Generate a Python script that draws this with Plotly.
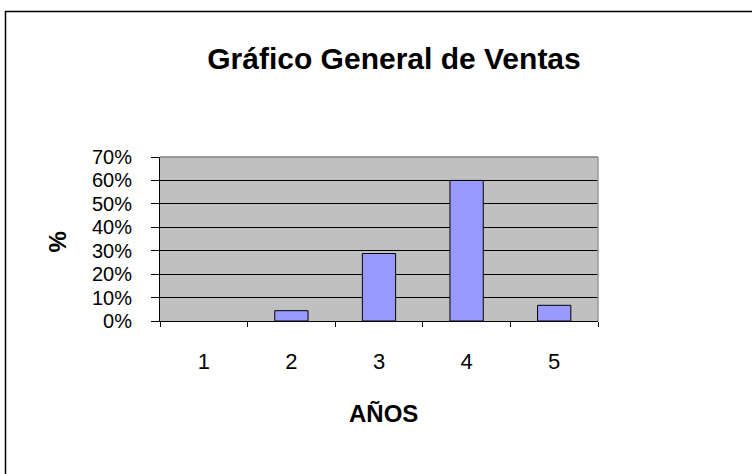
import plotly.graph_objects as go

# Chart data
years = ['1', '2', '3', '4', '5']
sales_pct = [0.0, 4.4, 28.8, 60.0, 6.7]
y_ticks = [0, 10, 20, 30, 40, 50, 60, 70]
y_tick_labels = ['0%', '10%', '20%', '30%', '40%', '50%', '60%', '70%']

W, H = 752, 474
# plot area in pixels
PX0, PX1, PY0, PY1 = 160, 598, 157, 321

FONT = 'Arial, Liberation Sans, sans-serif'


def px_x(x):
    return (x - PX0) / (PX1 - PX0)


def px_y(y):
    return (PY1 - y) / (PY1 - PY0)


fig = go.Figure()
fig.add_trace(go.Bar(
    x=years,
    y=sales_pct,
    marker=dict(color='#9999FF',
                line=dict(color='black', width=[0 if v == 0 else 1 for v in sales_pct])),
    hoverinfo='skip',
))

fig.update_layout(
    width=W, height=H,
    margin=dict(l=PX0, r=W - PX1, t=PY0, b=H - PY1, pad=0),
    paper_bgcolor='white',
    plot_bgcolor='#C0C0C0',
    showlegend=False,
    bargap=0.62,
    font=dict(family=FONT, color='black'),
    title=dict(
        text='<b>Gráfico General de Ventas</b>',
        font=dict(size=30, family=FONT, color='black'),
        x=394 / W, xanchor='center',
        y=1 - 58 / H, yanchor='middle',
    ),
)

fig.update_xaxes(
    type='category',
    tickson='boundaries',
    ticks='outside', ticklen=5, tickcolor='black', tickwidth=1,
    showline=True, linecolor='black', linewidth=1,
    showgrid=False,
    tickfont=dict(size=22),
    ticklabelstandoff=21,
)
fig.update_yaxes(
    range=[0, 70],
    tickvals=y_ticks, ticktext=y_tick_labels,
    ticks='outside', ticklen=8, tickcolor='black', tickwidth=1,
    showline=True, linecolor='black', linewidth=1,
    showgrid=True, gridcolor='black', gridwidth=1,
    zeroline=False,
    tickfont=dict(size=20),
    ticklabelstandoff=15,
)

# gray top/right border of the plot area
fig.add_shape(type='line', xref='paper', yref='paper', x0=0, x1=1, y0=1, y1=1,
              line=dict(color='#808080', width=1.5), layer='above')
fig.add_shape(type='line', xref='paper', yref='paper', x0=1, x1=1, y0=0, y1=1,
              line=dict(color='#999999', width=1.5), layer='above')

# outer chart frame (right/bottom edges fall outside the picture)
fig.add_shape(type='rect', xref='paper', yref='paper',
              x0=px_x(5.5), x1=px_x(762), y0=px_y(482), y1=px_y(11.5),
              line=dict(color='black', width=1.5), layer='above')

# axis titles
fig.add_annotation(text='<b>%</b>', xref='paper', yref='paper',
                   x=px_x(41), y=px_y(242), showarrow=False, textangle=-90,
                   font=dict(size=24, family=FONT, color='black'))
fig.add_annotation(text='<b>AÑOS</b>', xref='paper', yref='paper',
                   x=px_x(383), y=px_y(429), showarrow=False,
                   font=dict(size=24, family=FONT, color='black'))

fig.write_html('out.html', config={'displayModeBar': False},
               post_script="document.body.style.margin='0';")
